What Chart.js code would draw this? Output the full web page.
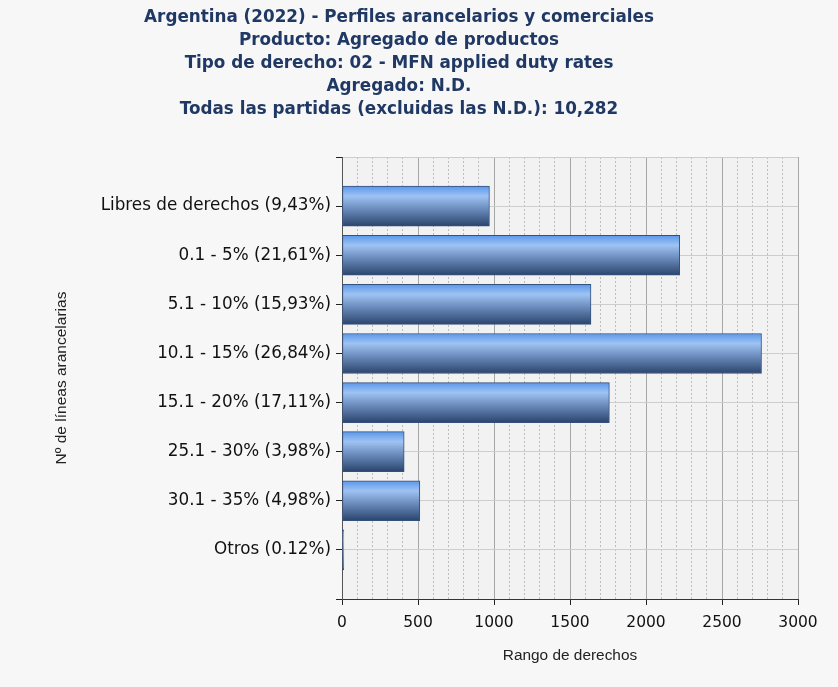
<!DOCTYPE html>
<html>
<head>
<meta charset="utf-8">
<script src="https://cdn.jsdelivr.net/npm/chart.js@4/dist/chart.umd.min.js"></script>
<style>
  html, body { margin: 0; padding: 0; background: #f7f7f7; }
  #wrap { width: 838px; height: 687px; }
</style>
</head>
<body>
<div id="wrap"><canvas id="chart" width="838" height="687"></canvas></div>
<script>
const titleLines = [
    'Argentina (2022) - Perfiles arancelarios y comerciales',
    'Producto: Agregado de productos',
    'Tipo de derecho: 02 - MFN applied duty rates',
    'Agregado: N.D.',
    'Todas las partidas (excluidas las N.D.): 10,282'
];
const categories = [
    'Libres de derechos (9,43%)',
    '0.1 - 5% (21,61%)',
    '5.1 - 10% (15,93%)',
    '10.1 - 15% (26,84%)',
    '15.1 - 20% (17,11%)',
    '25.1 - 30% (3,98%)',
    '30.1 - 35% (4,98%)',
    'Otros (0.12%)'
];
const lineCounts = [970, 2222, 1638, 2760, 1759, 409, 512, 12];
const xTicks = [0, 500, 1000, 1500, 2000, 2500, 3000];

// empty slots above and below the bars
const yLabels = [''].concat(categories, ['']);
const barData = [null].concat(lineCounts, [null]);

function barGradient(context) {
    const chart = context.chart;
    const yScale = chart.scales.y;
    if (!yScale || context.dataIndex === undefined) return '#5b8fd6';
    const c = yScale.getPixelForValue(context.dataIndex);
    if (!isFinite(c)) return '#5b8fd6';
    const g = chart.ctx.createLinearGradient(0, c - 20, 0, c + 20);
    g.addColorStop(0, '#5a97ea');
    g.addColorStop(0.25, '#9ec3f3');
    g.addColorStop(0.55, '#6e8fc0');
    g.addColorStop(1, '#2a446c');
    return g;
}

const plotBackground = {
    id: 'plotBackground',
    beforeDraw(chart) {
        const a = chart.chartArea;
        const ctx = chart.ctx;
        ctx.save();
        ctx.fillStyle = '#f7f7f7';
        ctx.fillRect(0, 0, chart.width, chart.height);
        ctx.fillStyle = '#f2f2f2';
        ctx.fillRect(a.left, a.top, a.right - a.left, a.bottom - a.top);
        ctx.restore();
    }
};

new Chart(document.getElementById('chart'), {
    type: 'bar',
    data: {
        labels: yLabels,
        datasets: [{
            data: barData,
            backgroundColor: barGradient,
            borderColor: '#34507c',
            borderWidth: 1,
            borderSkipped: false,
            barThickness: 40
        }]
    },
    options: {
        indexAxis: 'y',
        responsive: false,
        animation: false,
        layout: { padding: { top: 0, right: 40, bottom: 0, left: 0 } },
        plugins: {
            legend: { display: false },
            tooltip: { enabled: false },
            title: {
                display: true,
                text: titleLines,
                color: '#1f3864',
                font: { family: 'DejaVu Sans', size: 16.8, weight: 'bold', lineHeight: 1.36 },
                padding: { top: 6.5, bottom: 36.3 }
            }
        },
        scales: {
            x: {
                type: 'linear',
                position: 'bottom',
                min: 0,
                max: 3000,
                afterBuildTicks(axis) {
                    axis.ticks = xTicks.map(v => ({ value: v }));
                },
                afterFit(axis) { axis.height = 88; },
                ticks: {
                    color: '#111',
                    font: { family: 'DejaVu Sans', size: 15.5 },
                    padding: 9,
                    callback: v => String(v)
                },
                grid: {
                    color: '#a6a6a6',
                    tickColor: '#222',
                    tickLength: 6
                },
                border: { color: '#333', width: 1 },
                title: {
                    display: true,
                    text: 'Rango de derechos',
                    color: '#222',
                    font: { family: 'Liberation Sans', size: 15.4 },
                    padding: { top: 10, bottom: 21.7 }
                }
            },
            xMinor: {
                type: 'linear',
                position: 'bottom',
                display: true,
                min: 0,
                max: 3000,
                afterBuildTicks(axis) {
                    const t = [];
                    for (let v = 100; v < 3000; v += 100) {
                        if (v % 500 !== 0) t.push({ value: v });
                    }
                    axis.ticks = t;
                },
                afterFit(axis) { axis.height = 0; },
                ticks: { display: false },
                grid: { color: '#bcbcbc', drawTicks: false, lineWidth: 1 },
                border: { display: false, dash: [2, 2] }
            },
            y: {
                type: 'category',
                offset: false,
                afterFit(axis) { axis.width = 342; },
                ticks: {
                    color: '#111',
                    font: { family: 'DejaVu Sans', size: 16.8 },
                    padding: 5,
                    autoSkip: false
                },
                grid: {
                    offset: false,
                    color: '#cdcdcd',
                    tickColor: '#222',
                    tickLength: 6
                },
                border: { color: '#555', width: 1 },
                title: {
                    display: true,
                    text: 'Nº de líneas arancelarias',
                    color: '#222',
                    font: { family: 'Liberation Sans', size: 15.5 },
                    padding: { top: 52.7, bottom: 10 }
                }
            }
        }
    },
    plugins: [plotBackground]
});
</script>
</body>
</html>
